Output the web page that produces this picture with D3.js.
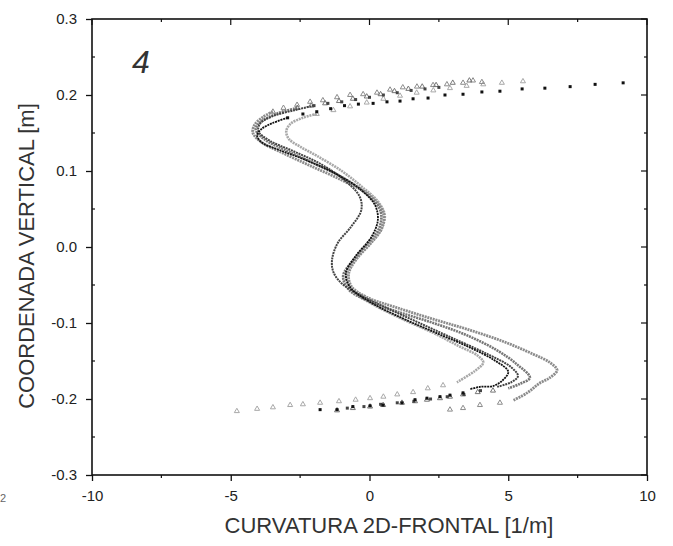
<!DOCTYPE html>
<html><head><meta charset="utf-8">
<script src="https://cdn.jsdelivr.net/npm/d3@7/dist/d3.min.js"></script>
<style>body{margin:0;background:#fff}svg{display:block}text{font-family:"Liberation Sans",Arial,sans-serif}</style>
</head><body><svg id="c" width="673" height="546"></svg>
<script>
// ---- data (curvature [1/m], vertical coordinate [m]) ----
const xTicks = [-10, -5, 0, 5, 10];
const yTicks = [-0.3, -0.2, -0.1, 0.0, 0.1, 0.2, 0.3];
const xLabel = "CURVATURA 2D-FRONTAL [1/m]";
const yLabel = "COORDENADA VERTICAL [m]";
const panelLabel = "4";

// Series G2 (outer, gray)
const g2Top = [[4.05,0.217],[3.73,0.219],[3.37,0.216],[2.79,0.214],[2.29,0.213],[1.71,0.211],[1.2,0.21],[0.74,0.207],[0.27,0.203],[-0.23,0.201],[-0.7,0.2],[-1.17,0.197],[-1.68,0.193],[-2.14,0.191],[-2.61,0.187],[-3.1,0.183],[-3.48,0.178]];
const g2Body = [[-3.48,0.178],[-3.84,0.171],[-4.15,0.16],[-4.2,0.15],[-3.9,0.138],[-3.2,0.125],[-2.2,0.108],[-1.0,0.088],[0.0,0.068],[0.5,0.045],[0.45,0.025],[0.05,0.005],[-0.45,-0.015],[-0.75,-0.035],[-0.65,-0.052],[-0.1,-0.066],[1.0,-0.08],[2.3,-0.095],[3.5,-0.108],[4.8,-0.124],[5.9,-0.141],[6.5,-0.152],[6.76,-0.162],[6.5,-0.172],[6.14,-0.179],[5.68,-0.192],[5.17,-0.202]];
const g2Bottom = [[4.7,-0.205],[3.98,-0.208],[3.37,-0.212],[2.9,-0.214]];

// Series G1 (light gray, long tails)
const g1Top = [[5.53,0.218],[4.77,0.216],[4.1,0.214],[3.5,0.212],[2.9,0.209],[2.3,0.206],[1.7,0.203],[1.1,0.199],[0.5,0.195],[-0.1,0.19],[-0.7,0.185],[-1.3,0.18],[-1.9,0.175]];
const g1Body = [[-1.9,0.175],[-2.4,0.17],[-2.85,0.162],[-3.0,0.152],[-2.9,0.142],[-2.5,0.132],[-1.9,0.12],[-1.0,0.1],[-0.3,0.08],[0.3,0.06],[0.55,0.042],[0.4,0.022],[-0.1,0.0],[-0.6,-0.02],[-0.85,-0.04],[-0.6,-0.058],[0.1,-0.075],[1.2,-0.095],[2.3,-0.113],[3.2,-0.13],[3.9,-0.143],[4.1,-0.152],[3.8,-0.163],[3.15,-0.178]];
const g1Bottom = [[2.65,-0.182],[2.1,-0.186],[1.57,-0.191],[1.0,-0.194],[0.5,-0.197],[0.02,-0.199],[-0.5,-0.201],[-1.1,-0.203],[-1.78,-0.205],[-2.4,-0.207],[-2.86,-0.208],[-3.48,-0.211],[-4.05,-0.213],[-4.78,-0.216]];

// Series S3 (mid gray)
const s3Top = [[3.6,0.219],[3.0,0.216],[2.4,0.213],[1.9,0.211],[1.4,0.208],[0.9,0.205],[0.4,0.201],[-0.1,0.198],[-0.6,0.195],[-1.1,0.192],[-1.6,0.189],[-2.1,0.186],[-2.6,0.183]];
const s3Body = [[-2.6,0.183],[-3.3,0.176],[-3.9,0.165],[-4.1,0.155],[-3.8,0.142],[-3.0,0.127],[-2.0,0.11],[-0.9,0.09],[-0.05,0.068],[0.4,0.047],[0.35,0.025],[-0.1,0.004],[-0.6,-0.018],[-0.95,-0.038],[-0.75,-0.056],[-0.1,-0.07],[1.0,-0.085],[2.3,-0.1],[3.5,-0.116],[4.6,-0.136],[5.3,-0.154],[5.78,-0.172],[5.42,-0.18],[5.0,-0.186]];
const s3Bottom = [[4.45,-0.189],[3.9,-0.191],[3.37,-0.194],[2.9,-0.197],[2.54,-0.199],[2.07,-0.201],[1.64,-0.203],[1.17,-0.205],[0.49,-0.208],[0.02,-0.21],[-0.6,-0.212],[-1.17,-0.215]];

// Series S2 (dark gray, inner)
const s2Top = [[2.5,0.21],[2.0,0.208],[1.5,0.206],[1.0,0.203],[0.5,0.2],[0.0,0.197],[-0.5,0.194],[-1.0,0.191],[-1.5,0.189],[-2.0,0.186]];
const s2Body = [[-2.0,0.186],[-2.7,0.18],[-3.5,0.172],[-3.95,0.162],[-4.0,0.152],[-3.6,0.14],[-2.8,0.127],[-1.8,0.11],[-0.9,0.088],[-0.35,0.066],[-0.3,0.048],[-0.7,0.025],[-1.15,0.005],[-1.35,-0.017],[-1.3,-0.033],[-1.0,-0.048],[-0.4,-0.062],[0.6,-0.08],[1.8,-0.1],[3.0,-0.12],[4.2,-0.14],[5.1,-0.158],[5.35,-0.17],[5.1,-0.178],[4.6,-0.184]];
const s2Bottom = [[4.0,-0.189],[3.4,-0.194],[2.8,-0.197],[2.2,-0.2],[1.6,-0.203],[1.0,-0.205],[0.4,-0.207],[-0.2,-0.21],[-0.8,-0.212]];

// Series S1 (black)
const s1Top = [[9.14,0.216],[8.13,0.214],[7.23,0.211],[6.32,0.209],[5.5,0.208],[4.7,0.205],[4.05,0.204],[3.37,0.201],[2.72,0.2],[2.11,0.196],[1.57,0.195],[1.1,0.192],[0.63,0.191],[0.13,0.189],[-0.4,0.188],[-0.9,0.186],[-1.4,0.182],[-1.9,0.178],[-2.4,0.175],[-2.95,0.17]];
const s1Body = [[-2.95,0.17],[-3.5,0.163],[-3.9,0.155],[-4.05,0.147],[-3.9,0.138],[-3.2,0.127],[-2.4,0.116],[-1.2,0.096],[-0.3,0.075],[0.2,0.055],[0.3,0.035],[0.05,0.012],[-0.5,-0.012],[-0.85,-0.034],[-0.7,-0.053],[0.0,-0.072],[1.2,-0.094],[2.4,-0.113],[3.6,-0.132],[4.5,-0.149],[5.0,-0.164],[4.81,-0.175],[4.45,-0.183],[3.98,-0.184],[3.62,-0.187]];
const s1Bottom = [[3.37,-0.192],[2.9,-0.195],[2.54,-0.197],[2.07,-0.199],[1.64,-0.201],[1.17,-0.205],[0.49,-0.208],[0.02,-0.209],[-0.6,-0.21],[-1.17,-0.214],[-1.78,-0.214]];

const seriesList = [
  {top:g1Top, body:g1Body, bottom:g1Bottom, color:"#a8a8a8", width:2.6, mark:"tri"},
  {top:g2Top, body:g2Body, bottom:g2Bottom, color:"#8c8c8c", width:2.8, mark:"tri"},
  {top:s3Top, body:s3Body, bottom:s3Bottom, color:"#777", width:2.6, mark:"tri"},
  {top:s2Top, body:s2Body, bottom:s2Bottom, color:"#444", width:2.0, mark:"sq"},
  {top:s1Top, body:s1Body, bottom:s1Bottom, color:"#111", width:1.8, mark:"sq"}
];

// ---- drawing ----
const svg = d3.select("#c");
const L = 92, R = 647, T = 19, B = 475;
const x = d3.scaleLinear().domain([-10, 10]).range([L, R]);
const y = d3.scaleLinear().domain([-0.3, 0.3]).range([B, T]);

const g = svg.append("g");
svg.append("clipPath").attr("id","pc").append("rect").attr("x",L).attr("y",T).attr("width",R-L).attr("height",B-T);
const plot = g.append("g").attr("clip-path","url(#pc)");

const line = d3.line().x(d => x(d[0])).y(d => y(d[1])).curve(d3.curveCatmullRom.alpha(0.5));
const triSym = d3.symbol().type(d3.symbolTriangle).size(11);

seriesList.forEach(s => {
  plot.append("path").attr("d", line(s.body)).attr("fill","none")
    .attr("stroke", s.color).attr("stroke-width", s.width)
    .attr("stroke-dasharray", "2,0.8");
  const pts = s.top.concat(s.bottom);
  if (s.mark === "tri") {
    plot.selectAll(null).data(pts).join("path")
      .attr("d", triSym).attr("transform", d => `translate(${x(d[0])},${y(d[1])})`)
      .attr("fill","none").attr("stroke", s.color).attr("stroke-width", 1);
  } else {
    plot.selectAll(null).data(pts).join("rect")
      .attr("x", d => x(d[0]) - 1.5).attr("y", d => y(d[1]) - 1.5)
      .attr("width", 3).attr("height", 3).attr("fill", s.color);
  }
});

// frame
g.append("rect").attr("x",L).attr("y",T).attr("width",R-L).attr("height",B-T)
  .attr("fill","none").attr("stroke","#111").attr("stroke-width",1.6);

// axes
const xAxisB = d3.axisBottom(x).tickValues(xTicks).tickSize(6).tickPadding(9).tickFormat(d3.format("d"));
const yAxisL = d3.axisLeft(y).tickValues(yTicks).tickSize(6).tickPadding(9).tickFormat(d3.format(".1f"));
const gx = g.append("g").attr("transform",`translate(0,${B})`).call(xAxisB);
const gy = g.append("g").attr("transform",`translate(${L},0)`).call(yAxisL);
[gx, gy].forEach(a => {
  a.select(".domain").remove();
  a.selectAll("line").attr("stroke","#111").attr("stroke-width",1.3);
  a.selectAll("text").attr("font-size",15).attr("fill","#222")
   .attr("font-family",'"Liberation Sans",Arial,sans-serif');
});
gy.selectAll("text").text(d => d3.format(".1f")(d).replace("−","-"));
gx.selectAll("text").text(d => String(d).replace("−","-"));

// minor ticks and inner ticks on top/right
const xMinor = [-7.5, -2.5, 2.5, 7.5];
const yMinor = [-0.25, -0.15, -0.05, 0.05, 0.15, 0.25];
const tk = g.append("g").attr("stroke","#111").attr("stroke-width",1.2);
xMinor.forEach(v => { tk.append("line").attr("x1",x(v)).attr("x2",x(v)).attr("y1",B).attr("y2",B+3);
  tk.append("line").attr("x1",x(v)).attr("x2",x(v)).attr("y1",T).attr("y2",T+3); });
xTicks.forEach(v => tk.append("line").attr("x1",x(v)).attr("x2",x(v)).attr("y1",T).attr("y2",T+6));
yMinor.forEach(v => { tk.append("line").attr("x1",L).attr("x2",L+3).attr("y1",y(v)).attr("y2",y(v));
  tk.append("line").attr("x1",R).attr("x2",R-3).attr("y1",y(v)).attr("y2",y(v)); });
yTicks.forEach(v => tk.append("line").attr("x1",R).attr("x2",R-6).attr("y1",y(v)).attr("y2",y(v)));

// titles
svg.append("text").attr("x", 389).attr("y", 533).attr("text-anchor","middle")
  .attr("font-size", 22).attr("fill","#333").text(xLabel);
svg.append("text").attr("transform","translate(34,256) rotate(-90)").attr("text-anchor","middle")
  .attr("font-size", 22).attr("fill","#333").text(yLabel);
svg.append("text").attr("x", 141).attr("y", 73).attr("text-anchor","middle")
  .attr("font-size", 32).attr("font-style","italic").attr("fill","#333").text(panelLabel);
svg.append("text").attr("x", 0).attr("y", 502).attr("font-size", 11).attr("fill","#666").text("2");
</script></body></html>
